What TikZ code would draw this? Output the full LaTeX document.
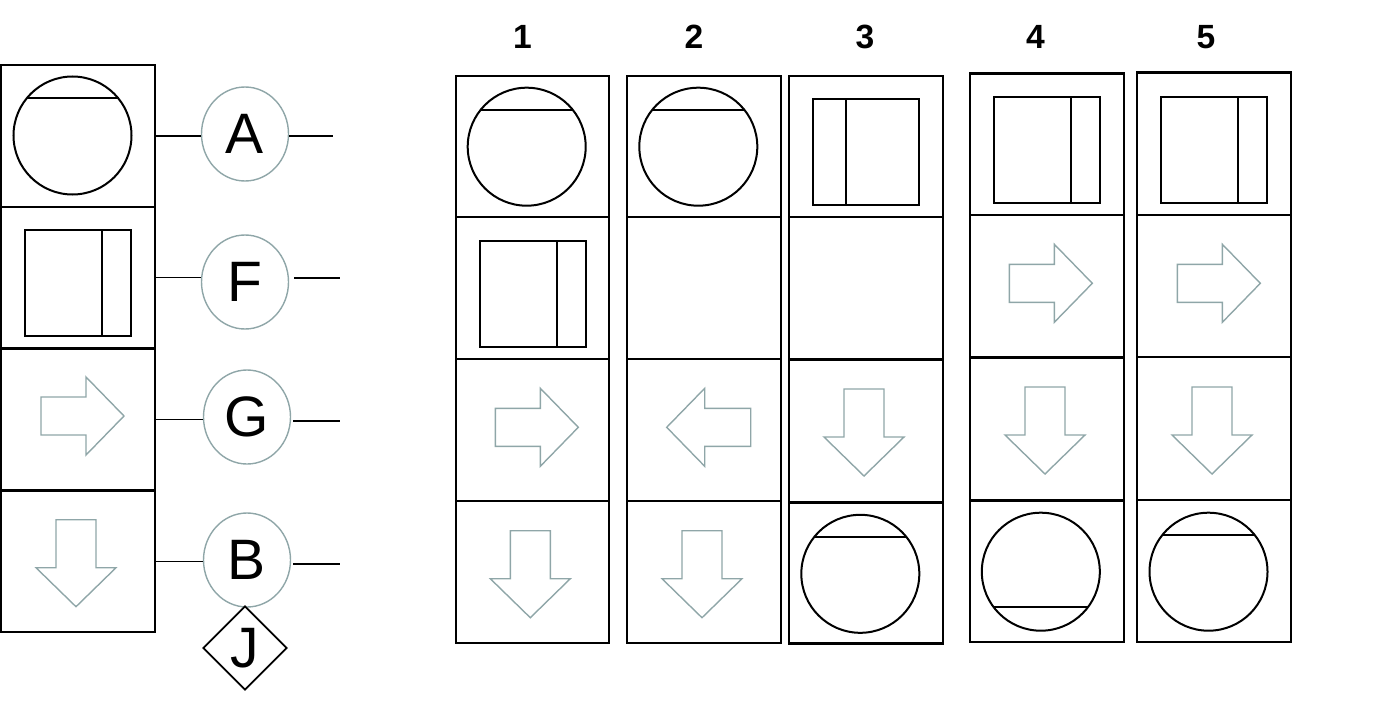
\documentclass[tikz,border=0pt]{standalone}
\usepackage{fontspec}
\setmainfont{Liberation Sans}
\usetikzlibrary{shapes.geometric}
\definecolor{arrowgray}{RGB}{143,166,168}
\tikzset{
  cellb/.style={draw=black, line width=1.2pt},
  cellnode/.style={cellb, rectangle, minimum width=77pt, minimum height=70.75pt, inner sep=0pt},
  sym/.style={draw=black, line width=1pt},
  garrow/.style={draw=arrowgray, line width=0.7pt, line join=miter},
  lett/.style={ellipse, draw=arrowgray, line width=0.7pt, minimum width=43.5pt, minimum height=47pt, inner sep=0pt, font=\fontsize{28.5pt}{30pt}\selectfont},
  conn/.style={draw=black, line width=0.9pt},
  numlab/.style={font=\bfseries\fontsize{16.8pt}{18pt}\selectfont, inner sep=0pt},
  rarr/.pic={\draw[garrow] (0,0) -- (-38,-39) -- (-38,-19) -- (-83,-19) -- (-83,19) -- (-38,19) -- (-38,39) -- cycle;},
  larr/.pic={\draw[garrow] (0,0) -- (38,-39) -- (38,-19) -- (84,-19) -- (84,19) -- (38,19) -- (38,39) -- cycle;},
  darr/.pic={\draw[garrow] (0,0) -- (-40,-39) -- (-20,-39) -- (-20,-87) -- (20,-87) -- (20,-39) -- (40,-39) -- cycle;},
  topc/.pic={\draw[sym] (0,0) circle[radius=59]; \draw[sym] (-46,-37) -- (46,-37);},
  botc/.pic={\draw[sym] (0,0) circle[radius=59]; \draw[sym] (-47,35) -- (47,35);},
  rectr/.pic={\draw[sym] (-53,-53) rectangle (53,53); \draw[sym] (24,-53) -- (24,53);},
  rectl/.pic={\draw[sym] (-53,-53) rectangle (53,53); \draw[sym] (-20,-53) -- (-20,53);}
}
\begin{document}
\begin{tikzpicture}[x=0.5pt,y=-0.5pt]
\useasboundingbox (0,0) rectangle (1379,717);
% left column
\node[cellnode] (cA) at (78,136) {};
\node[cellnode] (cF) at (78,277.5) {};
\node[cellnode] (cG) at (78,419.5) {};
\node[cellnode] (cB) at (78,561.5) {};
\pic at (72.5,135.5) {topc};
\pic at (78,282.5) {rectr};
\pic at (124,416) {rarr};
\pic at (76,606.7) {darr};
% letter ellipses
\node[lett] (eA) at (245,134) {A};
\node[lett] (eF) at (245,282) {F};
\node[lett] (eG) at (247,417) {G};
\node[lett] (eB) at (247,560) {B};
\node[diamond, draw=black, line width=0.9pt, minimum width=42pt, minimum height=42pt, inner sep=0pt, font=\fontsize{28.5pt}{30pt}\selectfont] (dJ) at (245,648) {J};
\coordinate (rA) at (333,136);
\coordinate (rF) at (340,278);
\coordinate (rG) at (340,421);
\coordinate (rB) at (340,564);
\draw[conn] (cA.east) -- (cA.east -| eA.west);
\draw[conn] (cF.east) -- (cF.east -| eF.west);
\draw[conn] (cG.east) -- (cG.east -| eG.west);
\draw[conn] (cB.east) -- (cB.east -| eB.west);
\draw[conn] (rA -| eA.east) -- (rA);
\draw[conn] ([xshift=2.5pt]rF -| eF.east) -- (rF);
\draw[conn] ([xshift=1pt]rG -| eG.east) -- (rG);
\draw[conn] ([xshift=1pt]rB -| eB.east) -- (rB);
% numbers
\node[numlab] (n1) at (522.5,37) {1};
\node[numlab] (n2) at (694,37) {2};
\node[numlab] (n3) at (865,37) {3};
\node[numlab] (n4) at (1035.5,37) {4};
\node[numlab] (n5) at (1206,37) {5};
% column 1
\draw[cellb] (456,76) rectangle (609,642.7);
\foreach \yy in {216.7,359,501} \draw[cellb] (456,\yy) -- (609,\yy);
\pic at (526.7,146.7) {topc};
\pic at (533,293.7) {rectr};
\pic at (578.3,427.3) {rarr};
\pic at (530.3,617.7) {darr};
% column 2
\draw[cellb] (626.7,76) rectangle (780.7,642.7);
\foreach \yy in {216.7,359,501} \draw[cellb] (626.7,\yy) -- (780.7,\yy);
\pic at (698.3,146.7) {topc};
\pic at (666.7,427.3) {larr};
\pic at (702,617.7) {darr};
% column 3
\draw[cellb] (788.7,76) rectangle (943,643.3);
\foreach \yy in {216.7,359.3,502.3} \draw[cellb] (788.7,\yy) -- (943,\yy);
\pic at (865.8,151.8) {rectl};
\pic at (864,476) {darr};
\pic at (860.3,573.8) {topc};
% column 4
\draw[cellb] (969.7,73.7) rectangle (1124,641.7);
\foreach \yy in {215,357.3,500.3} \draw[cellb] (969.7,\yy) -- (1124,\yy);
\pic at (1046.8,149.8) {rectr};
\pic at (1092.3,283.3) {rarr};
\pic at (1045,474) {darr};
\pic at (1040.8,571.7) {botc};
% column 5
\draw[cellb] (1137,72.7) rectangle (1290.7,641.7);
\foreach \yy in {215,356.7,499.7} \draw[cellb] (1137,\yy) -- (1290.7,\yy);
\pic at (1214,149.8) {rectr};
\pic at (1260.3,283.3) {rarr};
\pic at (1212,474) {darr};
\pic at (1208.5,571.7) {topc};
\end{tikzpicture}
\end{document}
